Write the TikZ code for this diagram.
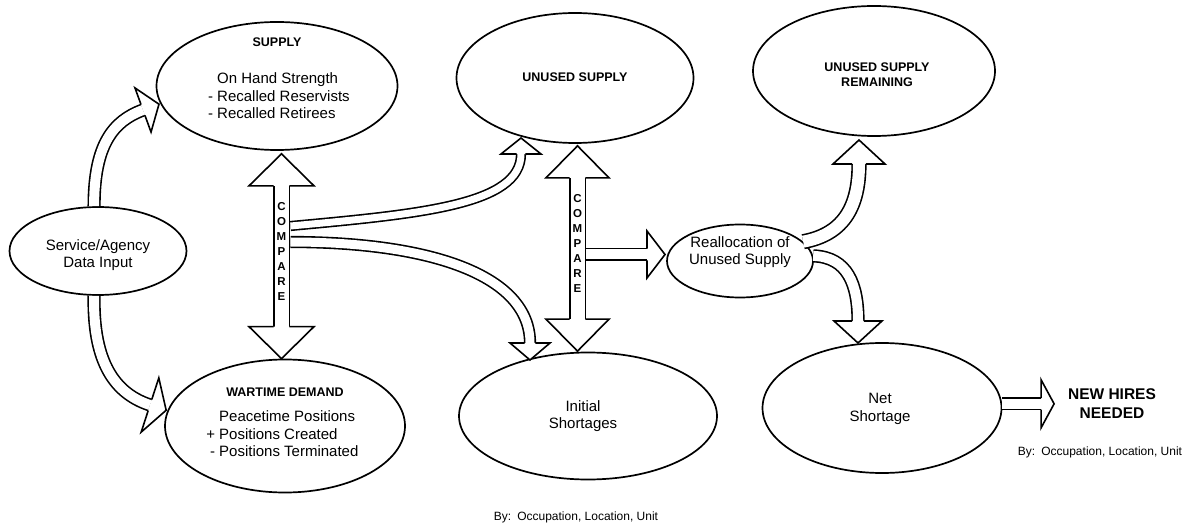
\documentclass[tikz,border=0pt]{standalone}
\usepackage{fontspec}
\setmainfont{Liberation Sans}
\usetikzlibrary{shapes.geometric}

% open block head: base point, angle, length, width, shaft gap
\newcommand{\blockhead}[5]{%
  \draw[headline, shift={(#1)}, rotate=#2]
    (0,{#5/2+0.8}) -- (0,{#4/2}) -- (#3,0) -- (0,{-#4/2}) -- (0,{-#5/2-0.8});}

\begin{document}
\begin{tikzpicture}[x=1pt, y=-1pt,
  ell/.style={draw, ellipse, line width=1.7pt, inner sep=0pt},
  shaft/.style={draw=black, line width=1.6pt, double=white, double distance=#1},
  headline/.style={draw=black, fill=white, line width=1.6pt, line join=miter},
  body/.style={font=\fontsize{15}{17.5}\selectfont, align=center},
  title/.style={font=\bfseries\fontsize{12.5}{15}\selectfont, align=center},
  letters/.style={font=\bfseries\fontsize{11.5}{15}\selectfont, align=center, inner sep=0pt},
  byline/.style={font=\fontsize{12}{14}\selectfont}]

	\useasboundingbox (0,0) rectangle (1193,526);

	\node[ell, minimum width=177pt, minimum height=88pt] (svc) at (98,251) {};
	\node[ell, minimum width=241pt, minimum height=128pt] (sup) at (277,86) {};
	\node[ell, minimum width=240pt, minimum height=133pt] (dem) at (285,426) {};
	\node[ell, minimum width=237pt, minimum height=130pt] (uns) at (575,78) {};
	\node[ell, minimum width=242pt, minimum height=130pt] (rem) at (874,71) {};
	\node[ell, minimum width=146pt, minimum height=73pt] (rea) at (740,261) {};
	\node[ell, minimum width=258pt, minimum height=127pt] (ini) at (588,416) {};
	\node[ell, minimum width=239pt, minimum height=130pt] (net) at (882,408) {};

	\node[body] (svctext) at (98,255) {Service/Agency\\Data Input};
	\node[title] (suptitle) at (277,42) {SUPPLY};
	\node[body, align=left, anchor=west, inner sep=0pt] (suptext) at (217,96)
		{On Hand Strength\\\llap{- }Recalled Reservists\\\llap{- }Recalled Retirees};
	\node[title] (demtitle) at (285,392) {WARTIME DEMAND};
	\node[body, align=left, anchor=west, inner sep=0pt] (demtext) at (219,434)
		{Peacetime Positions\\\llap{+ }Positions Created\\\llap{- }Positions Terminated};
	\node[title] (unstitle) at (575,77) {UNUSED SUPPLY};
	\node[title] (remtitle) at (877,75) {UNUSED SUPPLY\\REMAINING};
	\node[body] (reatext) at (740,252) {Reallocation of\\Unused Supply};
	\node[body] (initext) at (583,416) {Initial\\Shortages};
	\node[body] (nettext) at (880,409) {Net\\Shortage};
	\node[title, font=\bfseries\fontsize{15.5}{19}\selectfont] (hires) at (1112,403.5) {NEW HIRES\\NEEDED};
	\node[byline] (by1) at (1100,452) {By:\enskip Occupation, Location, Unit};
	\node[byline] (by2) at (576,517) {By:\enskip Occupation, Location, Unit};

	\coordinate (sa1) at (143,110);
	\coordinate (sa2) at (150,405);
	\draw[shaft=10pt] (svc.95) .. controls (94,145) and (113,121) .. (sa1);
	\draw[shaft=10pt] (svc.265) .. controls (93,355) and (110,392) .. (sa2);
	\blockhead{sa1}{20}{17}{47}{10}
	\blockhead{sa2}{-18}{17}{57}{10}

	\coordinate (ca1) at ([xshift=4.5pt, yshift=-35pt]sup.south);
	\coordinate (ca2) at ([xshift=-3.5pt, yshift=32pt]dem.north);
	\draw[shaft=14pt] (ca1) -- (ca2);
	\blockhead{ca1}{90}{32}{65}{14}
	\blockhead{ca2}{-90}{32}{65}{14}
	\node[letters] (cmp1) at (281.5,251) {C\\O\\M\\P\\A\\R\\E};

	\coordinate (w1) at (290.5,226);
	\coordinate (w2) at (290.5,242);
	\coordinate (ub) at (521,154);
	\coordinate (ib) at (530,343);
	\draw[shaft=7pt] (w1) .. controls (420,214) and (521,205) .. (ub);
	\draw[shaft=9pt] (w2) .. controls (430,242) and (530,275) .. (ib);
	\blockhead{ub}{90}{16}{40}{7}
	\blockhead{ib}{-90}{17}{40}{9}

	\coordinate (ca3) at ([xshift=2.5pt, yshift=-34pt]uns.south);
	\coordinate (ca4) at ([xshift=-10.5pt, yshift=32.5pt]ini.north);
	\draw[shaft=14pt] (ca3) -- (ca4);
	\blockhead{ca3}{90}{32}{63}{14}
	\blockhead{ca4}{-90}{32}{63}{14}
	\node[letters] (cmp2) at (577.5,243) {C\\O\\M\\P\\A\\R\\E};

	\coordinate (w3) at (585.5,254.5);
	\coordinate (rb) at (647,254.5);
	\draw[shaft=10pt] (w3) -- (rb);
	\blockhead{rb}{0}{18}{47}{10}

	\coordinate (mb) at (859,164);
	\coordinate (nb) at (858,321);
	\draw[shaft=12pt] (rea.17) .. controls (845,234) and (859,205) .. (mb);
	\draw[shaft=10pt] (rea.4) .. controls (848,257) and (858,285) .. (nb);
	\blockhead{mb}{90}{24}{52}{12}
	\blockhead{nb}{-90}{22}{48}{10}

	\coordinate (hb) at ([xshift=39pt]net.2);
	\draw[shaft=10pt] (net.2) -- (hb);
	\blockhead{hb}{0}{13}{48}{10}
\end{tikzpicture}
\end{document}
